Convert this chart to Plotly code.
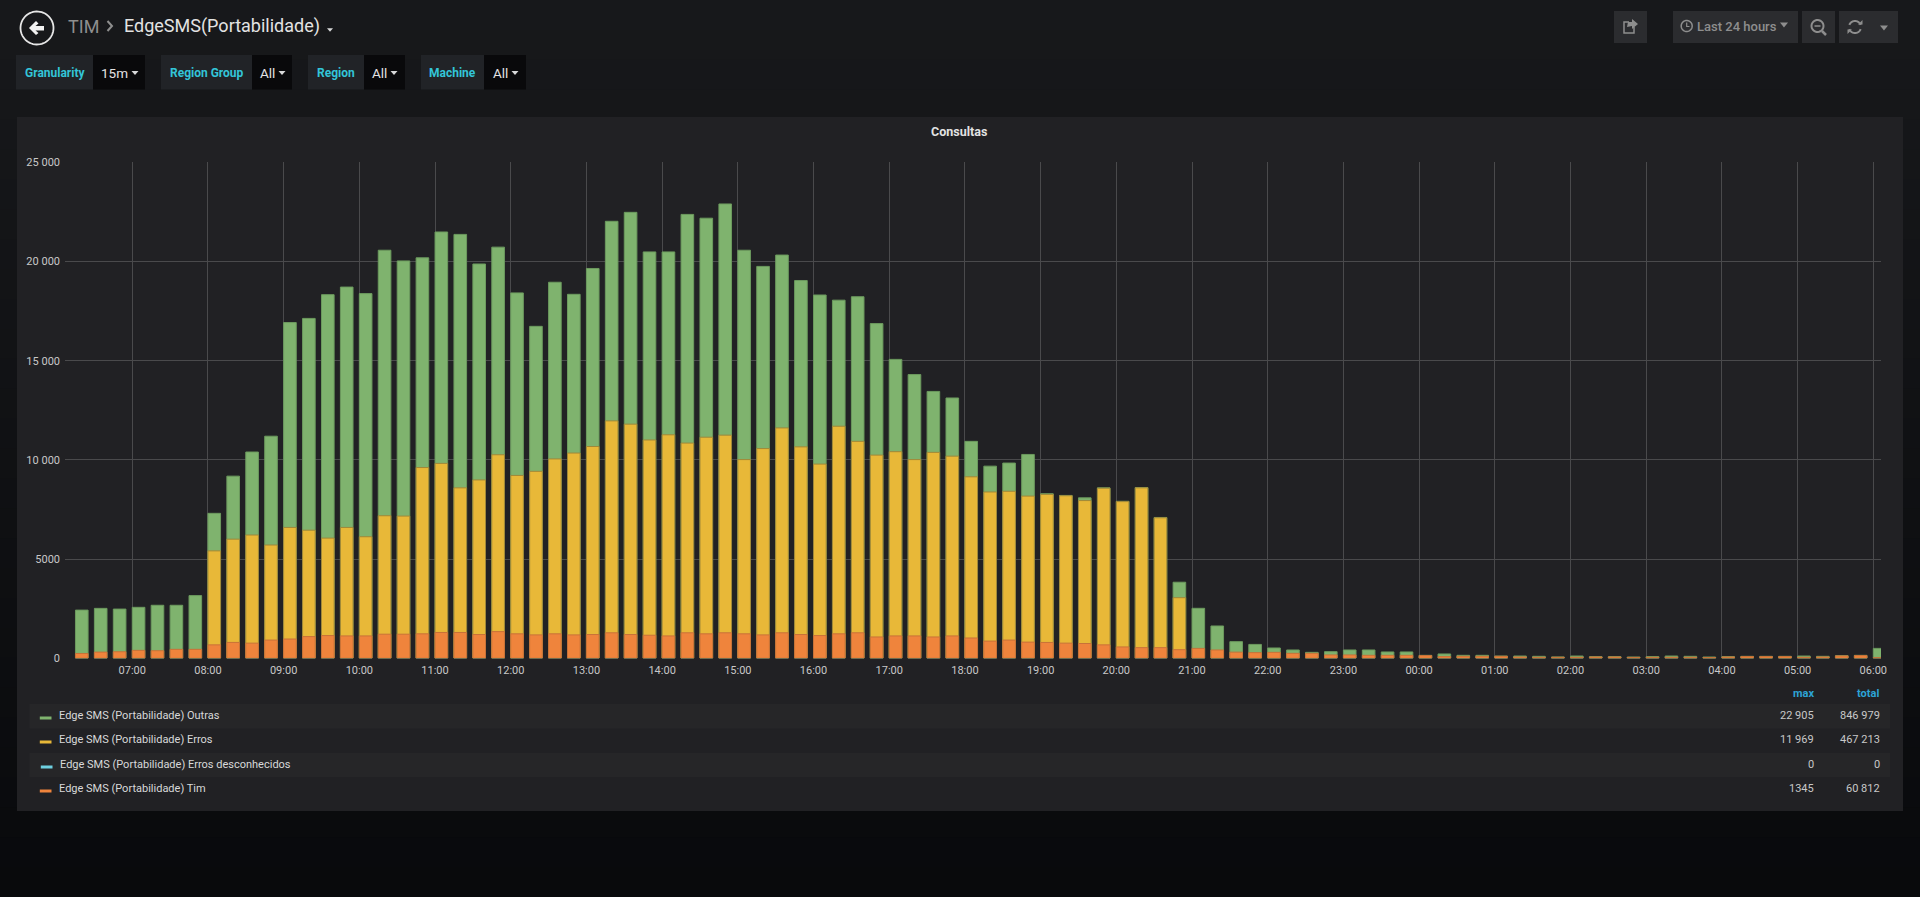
import numpy as np
import pandas as pd
import plotly.graph_objects as go

W, H = 1920, 897

tiempos = pd.date_range("2018-06-11 06:15", periods=96, freq="15min")

outras = [
    2430, 2517, 2482, 2570, 2673, 2673, 3160, 7309, 9183, 10399, 11197, 16926,
    17135, 18332, 18715, 18385, 20572, 20034, 20190, 21492, 21370, 19878, 20728, 18420,
    16735, 18958, 18350, 19652, 22031, 22483, 20487, 20487, 22378, 22187, 22905, 20572,
    19757, 20329, 19044, 18315, 18055, 18228, 16874, 15069, 14305, 13454, 13124, 10937,
    9687, 9843, 10277, 8298, 8211, 8090, 8593, 7916, 8610, 7100, 3836, 2520,
    1630, 840, 700, 520, 420, 300, 335, 420, 420, 320, 320, 150,
    220, 150, 150, 115, 115, 100, 70, 115, 85, 85, 65, 85,
    115, 100, 65, 85, 100, 100, 100, 115, 100, 135, 150, 500,
]
erros = [
    0, 0, 0, 0, 0, 0, 0, 5416, 6007, 6215, 5711, 6597,
    6458, 6059, 6597, 6128, 7187, 7170, 9617, 9826, 8593, 8992, 10260, 9218,
    9426, 10052, 10347, 10677, 11969, 11805, 11007, 11267, 10850, 11146, 11250, 10017,
    10572, 11614, 10659, 9791, 11700, 10937, 10243, 10416, 10017, 10382, 10191, 9149,
    8385, 8420, 8177, 8264, 8194, 7951, 8576, 7899, 8593, 7083, 3055, 0,
    0, 0, 0, 0, 0, 0, 0, 0, 0, 0, 0, 0,
    0, 0, 0, 0, 0, 0, 0, 0, 0, 0, 0, 0,
    0, 0, 0, 0, 0, 0, 0, 0, 0, 0, 0, 0,
]
desconhecidos = [0] * 96
tim = [
    243, 312, 330, 400, 382, 451, 451, 677, 800, 764, 920, 972,
    1094, 1146, 1128, 1128, 1215, 1215, 1233, 1302, 1302, 1198, 1345, 1233,
    1180, 1233, 1180, 1198, 1285, 1198, 1163, 1128, 1285, 1233, 1285, 1233,
    1180, 1285, 1198, 1146, 1233, 1285, 1076, 1128, 1128, 1076, 1128, 1024,
    868, 920, 816, 799, 764, 746, 677, 573, 538, 538, 434, 500,
    420, 310, 285, 300, 250, 250, 170, 170, 150, 150, 150, 135,
    85, 100, 100, 100, 65, 50, 50, 50, 65, 65, 45, 50,
    50, 50, 35, 65, 85, 85, 85, 50, 65, 120, 135, 30,
]

y_ticks = [0, 5000, 10000, 15000, 20000, 25000]
y_labels = ["0", "5000", "10 000", "15 000", "20 000", "25 000"]

nombres = [
    "Edge SMS (Portabilidade) Outras",
    "Edge SMS (Portabilidade) Erros",
    "Edge SMS (Portabilidade) Erros desconhecidos",
    "Edge SMS (Portabilidade) Tim",
]
colores = ["#7FB36E", "#E8B838", "#6ED0E0", "#EF843C"]
bordes = ["#6c9a5e", "#a08838", "#4d8f9a", "#c87238"]
maximos = ["22 905", "11 969", "0", "1345"]
totales = ["846 979", "467 213", "0", "60 812"]

filtros = [
    ("Granularity", "15m", 16, 93, 145, 114, 135),
    ("Region Group", "All", 161, 252, 292, 267, 282),
    ("Region", "All", 308, 364, 405, 379, 394),
    ("Machine", "All", 421, 484, 526, 500, 515),
]


def px(x):
    return x / W


def py(y):
    return 1 - y / H


def rect(x0, y0, x1, y1, fill, line=None):
    return dict(type="rect", xref="paper", yref="paper", x0=px(x0), x1=px(x1), y0=py(y0), y1=py(y1),
                fillcolor=fill, line=dict(width=1 if line else 0, color=line or fill), layer="below")


def poly(puntos, fill=None, line=None, ancho=1.5, cerrar=True):
    d = "M " + " L ".join(f"{px(a):.5f},{py(b):.5f}" for a, b in puntos) + (" Z" if cerrar else "")
    return dict(type="path", xref="paper", yref="paper", path=d, fillcolor=fill or "rgba(0,0,0,0)",
                line=dict(width=ancho if line else 0, color=line or "rgba(0,0,0,0)"), layer="above")


def arco(cx, cy, r, a0, a1, n=30):
    t = np.radians(np.linspace(a0, a1, n))
    return list(zip(cx + r * np.cos(t), cy + r * np.sin(t)))


def caret(x, y, w, color):
    return poly([(x - w, y - w * 0.6), (x + w, y - w * 0.6), (x, y + w * 0.6)], fill=color)


def texto(x, y, s, size=11, color="#d8d9da", anchor="left", weight=400):
    return dict(xref="paper", yref="paper", x=px(x), y=py(y), text=s, showarrow=False, xanchor=anchor,
                yanchor="middle", font=dict(family="Roboto", size=size, color=color, weight=weight), borderpad=0)


shapes = []
anots = []

# fondo con degradado
paso = 30
for i in range(paso):
    t = i / (paso - 1)
    c = [int(round(a + (b - a) * t)) for a, b in zip((23, 24, 27), (9, 10, 12))]
    shapes.append(rect(0, H * i / paso, W, H, f"rgb({c[0]},{c[1]},{c[2]})"))

# panel
shapes.append(rect(17, 117, 1903, 811, "#212124"))

# filas de la leyenda
shapes.append(rect(29.5, 704, 1890, 728.5, "#262628"))
shapes.append(rect(29.5, 753, 1890, 777, "#262628"))

# cabecera
shapes.append(poly(arco(37, 28, 16.5, 0, 360, 60), line="#e6e6e6", ancho=1.8))
shapes.append(poly([(29, 28), (36, 21), (38.5, 23.5), (35.5, 26), (44, 26), (44, 30.5), (35.5, 30.5), (38.5, 33), (36, 35)],
                   fill="#f2f2f2"))
anots.append(texto(67, 26, "TIM", 18, "#8e8e8e"))
shapes.append(poly([(107.5, 21), (112, 26), (107.5, 31)], line="#8e8e8e", ancho=2, cerrar=False))
anots.append(texto(123, 26, "EdgeSMS(Portabilidade)", 18, "#e3e3e3"))
shapes.append(caret(330, 30, 3, "#d8d9da"))

# filtros
for nombre, valor, x0, x1, x2, xv, xc in filtros:
    shapes.append(rect(x0, 55, x1, 89.5, "#212327"))
    shapes.append(rect(x1, 55, x2, 89.5, "#09090b"))
    anots.append(texto((x0 + x1) / 2, 73, f"<b>{nombre}</b>", 12, "#33c5d8", "center"))
    anots.append(texto(xv, 73, valor, 13.5, "#e3e3e3", "center"))
    shapes.append(caret(xc, 73, 3.5, "#d8d9da"))

# botones
for x0, x1 in [(1614, 1647), (1673, 1798), (1802, 1835), (1839, 1871), (1871, 1898)]:
    shapes.append(rect(x0, 11, x1, 43, "#2b2c2f"))
gris = "#8e8e8e"
shapes.append(poly([(1634, 27), (1634, 33), (1624, 33), (1624, 22), (1629, 22)], line=gris, ancho=1.5, cerrar=False))
shapes.append(poly([(1632, 19), (1638, 24), (1632, 29), (1632, 26), (1627, 27), (1628, 22), (1632, 22)], fill=gris))
shapes.append(poly(arco(1686.7, 26, 5.5, 0, 360), line=gris))
shapes.append(poly([(1686.7, 22.5), (1686.7, 26.5), (1689.5, 26.5)], line=gris, ancho=1.2, cerrar=False))
anots.append(texto(1696, 26.5, "Last 24 hours", 13, gris, weight=500))
shapes.append(caret(1784, 25, 4, gris))
shapes.append(poly(arco(1817.5, 26, 6, 0, 360), line=gris, ancho=2))
shapes.append(poly([(1822, 31), (1826, 35)], line=gris, ancho=2.5, cerrar=False))
shapes.append(poly([(1814.5, 26), (1820.5, 26)], line=gris, ancho=1.5, cerrar=False))
shapes.append(poly(arco(1855, 27, 6, 200, 340), line=gris, ancho=2, cerrar=False))
shapes.append(poly(arco(1855, 27, 6, 20, 160), line=gris, ancho=2, cerrar=False))
shapes.append(poly([(1858, 24.5), (1862.5, 24.5), (1862.5, 20)], fill=gris))
shapes.append(poly([(1852, 29.5), (1847.5, 29.5), (1847.5, 34)], fill=gris))
shapes.append(caret(1884, 28, 4, gris))

# titulo y leyenda
anots.append(texto(959, 131, "<b>Consultas</b>", 12.5, "#e3e3e3", "center"))
anots.append(texto(1815, 693, "<b>max</b>", 11, "#2da3d6", "right"))
anots.append(texto(1880, 693, "<b>total</b>", 11, "#2da3d6", "right"))
filas = [715, 739, 764, 788]
for i, fila in enumerate(filas):
    dx = 1 if i == 2 else 0
    shapes.append(rect(39.8 + dx, fila + 1.5, 51.5 + dx, fila + 4.5, colores[i]))
    anots.append(texto(58 + dx, fila, nombres[i], 11, "#d8d9da"))
    anots.append(texto(1815, fila, maximos[i], 11, "#c8c8c8", "right"))
    anots.append(texto(1880.5, fila, totales[i], 11, "#c8c8c8", "right"))

fig = go.Figure()

for nombre, valores, color, borde in zip(nombres, [outras, erros, desconhecidos, tim], colores, bordes):
    fig.add_trace(go.Bar(
        x=tiempos,
        y=valores,
        name=nombre,
        width=600000,
        offset=0,
        marker=dict(color=color, line=dict(color=borde, width=1)),
    ))

fig.update_layout(
    width=W,
    height=H,
    barmode="overlay",
    showlegend=False,
    margin=dict(l=0, r=0, t=0, b=0, autoexpand=False),
    paper_bgcolor="#101113",
    plot_bgcolor="rgba(0,0,0,0)",
    shapes=shapes,
    annotations=anots,
    font=dict(family="Roboto", size=11, color="#c8c8c8"),
    xaxis=dict(
        domain=[px(65), px(1881)],
        type="date",
        range=["2018-06-11 06:06:42", "2018-06-12 06:06:06"],
        dtick=3600000,
        tick0="2018-06-11 07:00",
        tickformat="%H:%M",
        automargin=False,
        showgrid=True,
        gridcolor="#4a4a4c",
        gridwidth=1,
        ticks="",
        ticklabelstandoff=4,
        zeroline=False,
        showline=False,
    ),
    yaxis=dict(
        domain=[py(658.3), py(162.4)],
        range=[0, 25000],
        tickvals=y_ticks,
        ticktext=y_labels,
        automargin=False,
        showgrid=True,
        gridcolor="#4a4a4c",
        gridwidth=1,
        ticks="",
        ticklabelstandoff=4,
        zeroline=False,
        showline=False,
    ),
)

fig.write_html("out.html", config=dict(displayModeBar=False),
               post_script="document.body.style.margin='0';document.body.style.overflow='hidden';")
